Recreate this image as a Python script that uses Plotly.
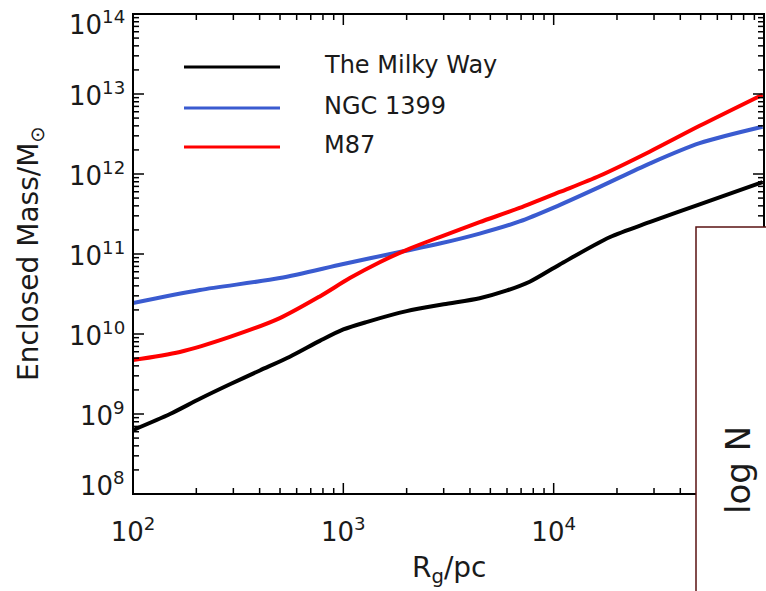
import plotly.graph_objects as go

# ---------------- data ----------------
R_mw = [100, 150, 208, 289, 401, 557, 773, 1000, 1300, 2000, 3000, 4446, 6000,
        7691, 10690, 18450, 28580, 49430, 98400]
M_mw = [6.3e8, 1.0e9, 1.55e9, 2.35e9, 3.5e9, 5.2e9, 8.2e9, 1.14e10, 1.42e10,
        1.93e10, 2.35e10, 2.8e10, 3.5e10, 4.5e10, 7.4e10, 1.62e11, 2.5e11,
        4.17e11, 7.9e11]

R_ngc = [100, 208, 499, 1000, 1854, 2871, 4446, 6887, 10000, 16560, 28580,
         49430, 98400]
M_ngc = [2.44e10, 3.55e10, 5.0e10, 7.5e10, 1.06e11, 1.35e11, 1.8e11, 2.55e11,
         3.8e11, 6.9e11, 1.35e12, 2.43e12, 3.9e12]

R_m87 = [100, 167, 289, 499, 773, 1074, 1489, 2070, 2871, 4446, 6887, 10690,
         16560, 28580, 49430, 98400]
M_m87 = [4.73e9, 5.96e9, 9.2e9, 1.58e10, 2.95e10, 5.0e10, 7.9e10, 1.17e11,
         1.63e11, 2.5e11, 3.76e11, 5.96e11, 9.5e11, 1.9e12, 4.0e12, 9.8e12]

series_names = ["The Milky Way", "NGC 1399", "M87"]
series_colors = ["#000000", "#3a5bd0", "#ff0000"]

x_tickvals = [1e2, 1e3, 1e4]
x_ticktext = ["10<sup>2</sup>", "10<sup>3</sup>", "10<sup>4</sup>"]
y_exponents = [8, 9, 10, 11, 12, 13, 14]
y_ticktext = ["10<sup>%d</sup>" % e for e in y_exponents]

# ---------------- figure ----------------
W, H = 766, 591
ML, MR, MT, MB = 133, 2, 14, 97
PW, PH = W - ML - MR, H - MT - MB


def px(x):
    return (x - ML) / PW


def py(y):
    return (H - MB - y) / PH


FONT = "DejaVu Sans"
TXT = "#1a1a1a"

fig = go.Figure()
for R, M, name, col in zip([R_mw, R_ngc, R_m87], [M_mw, M_ngc, M_m87],
                           series_names, series_colors):
    fig.add_trace(go.Scatter(x=R, y=M, mode="lines", name=name,
                             line=dict(color=col, width=4, shape="spline",
                                       smoothing=0.8),
                             showlegend=False, hoverinfo="skip"))

fig.update_xaxes(type="log", range=[2, 5], showgrid=False, zeroline=False,
                 showline=False, ticks="", automargin=False,
                 tickmode="array", tickvals=x_tickvals, ticktext=x_ticktext,
                 ticklabelstandoff=20, ticklabeloverflow="allow",
                 tickfont=dict(family=FONT, size=26, color=TXT))
fig.update_yaxes(type="log", range=[8, 14], showgrid=False, zeroline=False,
                 showline=False, ticks="", automargin=False,
                 showticklabels=False)

annotations = []
shapes = []

# ---- axis frame and ticks (inside, mirrored on all four sides) ----
shapes.append(dict(type="rect", xref="paper", yref="paper", x0=0, x1=1,
                   y0=0, y1=1, line=dict(color="black", width=2),
                   fillcolor="rgba(0,0,0,0)", layer="above"))

major_x = x_tickvals
minor_x = [m * 10 ** e for e in range(2, 5) for m in range(2, 10)]
major_y = [10.0 ** e for e in y_exponents]
minor_y = [m * 10 ** e for e in range(8, 14) for m in range(2, 10)]

for vals, ln in ((major_x, 11), (minor_x, 6)):
    for v in vals:
        for base, sgn in ((0, 1), (1, -1)):
            shapes.append(dict(type="line", xref="x", yref="paper",
                               x0=v, x1=v, y0=base, y1=base + sgn * ln / PH,
                               line=dict(color="black", width=1.5),
                               layer="above"))
for vals, ln in ((major_y, 11), (minor_y, 6)):
    for v in vals:
        for base, sgn in ((0, 1), (1, -1)):
            shapes.append(dict(type="line", yref="y", xref="paper",
                               y0=v, y1=v, x0=base, x1=base + sgn * ln / PW,
                               line=dict(color="black", width=1.5),
                               layer="above"))

# y tick labels (end labels nudged inwards as in the original)
for e, txt in zip(y_exponents, y_ticktext):
    shift = -9 if e == 14 else (10 if e == 8 else 0)
    annotations.append(dict(text=txt, xref="paper", yref="y", x=0, y=e,
                            xanchor="right", yanchor="middle", xshift=-6,
                            yshift=shift, showarrow=False,
                            font=dict(family=FONT, size=26, color=TXT)))

# legend (drawn manually to match the long sample lines)
leg_y = [67, 108, 147]
for name, col, yy in zip(series_names, series_colors, leg_y):
    shapes.append(dict(type="line", xref="paper", yref="paper",
                       x0=px(184), x1=px(280), y0=py(yy), y1=py(yy),
                       line=dict(color=col, width=3)))
    annotations.append(dict(text=name, xref="paper", yref="paper",
                            x=px(322), y=py(yy - 2), xanchor="left",
                            yanchor="middle", showarrow=False,
                            font=dict(family=FONT, size=24, color=TXT)))

# axis titles
annotations.append(dict(text="Enclosed Mass/M<sub>⊙</sub>", xref="paper",
                        yref="paper", x=px(30), y=py(254), textangle=-90,
                        xanchor="center", yanchor="middle", showarrow=False,
                        font=dict(family=FONT, size=28, color=TXT)))
annotations.append(dict(text="R<sub>g</sub>/pc", xref="paper", yref="paper",
                        x=px(449), y=py(569), xanchor="center",
                        yanchor="middle", showarrow=False,
                        font=dict(family=FONT, size=28, color=TXT)))

# overlapping panel in the lower right corner (drawn last, on top)
shapes.append(dict(type="rect", xref="paper", yref="paper", layer="above",
                   x0=px(696), x1=px(800), y0=py(620), y1=py(227),
                   fillcolor="white", line=dict(color="#5a1212", width=1.5)))
annotations.append(dict(text="log N", xref="paper", yref="paper",
                        x=px(738), y=py(470), textangle=-90,
                        xanchor="center", yanchor="middle", showarrow=False,
                        font=dict(family=FONT, size=34, color=TXT)))

fig.update_layout(width=W, height=H, margin=dict(l=ML, r=MR, t=MT, b=MB),
                  paper_bgcolor="white", plot_bgcolor="white",
                  showlegend=False, shapes=shapes, annotations=annotations)

fig.write_html("out.html")
